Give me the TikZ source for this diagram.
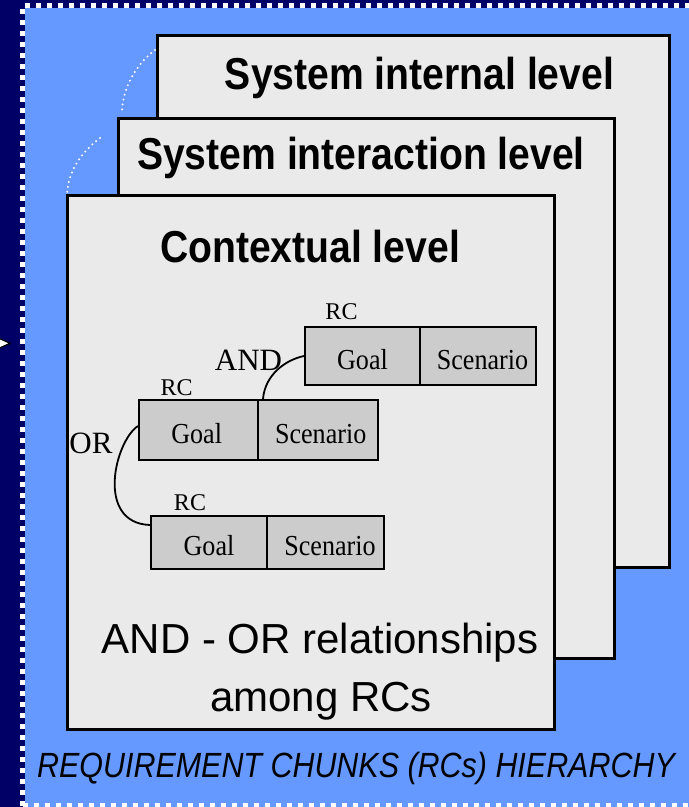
\documentclass[tikz,border=0pt]{standalone}
\usepackage{fontspec}
\setmainfont{Liberation Serif}
\setsansfont{Liberation Sans}
\usepackage{graphicx}
\definecolor{slidenavy}{HTML}{000066}
\definecolor{slideblue}{HTML}{6699FF}
\definecolor{panelgray}{HTML}{EAEAEA}
\definecolor{cellgray}{HTML}{CCCCCC}
% horizontally condensed text
\newcommand\squeeze[2]{\scalebox{#1}[1]{#2}}
% cell text: baseline set a fixed distance below the cell centre
\newcommand\celltext[1]{\raisebox{-13pt}[0pt][0pt]{\squeeze{0.9}{#1}}}

\begin{document}
\begin{tikzpicture}[x=1pt,y=-1pt,
  panel/.style={draw=black, line width=2.5pt, fill=panelgray, rectangle, inner sep=0pt, anchor=north west},
  title/.style={anchor=base, inner sep=0pt, font=\sffamily\bfseries\fontsize{44.7}{50}\selectfont},
  cell/.style={draw=black, line width=2pt, fill=cellgray, rectangle, inner sep=0pt, anchor=north west, font=\fontsize{29}{32}\selectfont},
  rclabel/.style={anchor=base, inner sep=0pt, font=\fontsize{24}{28}\selectfont},
  oplabel/.style={anchor=base, inner sep=0pt, font=\fontsize{31}{34}\selectfont},
  bodytext/.style={anchor=base, inner sep=0pt, font=\sffamily\fontsize{42}{48}\selectfont},
  relation/.style={draw=black, line width=1.8pt},
  trail/.style={draw=white, line width=2.2pt, dash pattern=on 0pt off 5pt, line cap=round},
  border/.style={draw=white, line width=5pt, dash pattern=on 5pt off 6pt}]

\useasboundingbox (0,0) rectangle (689,807);

% slide background and dotted frame
\fill[slidenavy] (0,0) rectangle (689,807);
\fill[slideblue] (25,7.5) rectangle (689,807);
\draw[border] (22.5,805.5) -- (22.5,5) -- (689,5);
\draw[border] (22.5,805.5) -- (689,805.5);

% small pointer on the left edge
\filldraw[fill=white, draw=black, line width=1.2pt] (-6,336) -- (10,343.3) -- (-6,350.5) -- cycle;

% stacked level panels
\node[panel, minimum width=512pt, minimum height=532pt] (internal) at (156,34) {};
\node[panel, minimum width=496pt, minimum height=540pt] (interaction) at (117,117) {};
\node[panel, minimum width=487pt, minimum height=534pt] (contextual) at (66,194) {};

% dotted trails between the panels
\path[trail] (155,50) .. controls (135,65) and (122,90) .. (122,113);
\path[trail] (100,138) .. controls (82,152) and (68,170) .. (67,195);

% panel titles
\node[title] (tinternal) at (419.5,89) {\squeeze{0.875}{System internal level}};
\node[title] (tinteraction) at (361,169.3) {\squeeze{0.875}{System interaction level}};
\node[title] (tcontextual) at (310,262.7) {\squeeze{0.875}{Contextual level}};

% requirement chunks
\node[cell, minimum width=115pt, minimum height=58pt] (rc1g) at (304,326) {\celltext{Goal}};
\node[cell, minimum width=116pt, minimum height=58pt] (rc1s) at (419,326) {\celltext{\hspace{10pt}Scenario}};
\node[cell, minimum width=119pt, minimum height=60pt] (rc2g) at (138,399) {\celltext{Goal\hspace{4pt}}};
\node[cell, minimum width=120pt, minimum height=60pt] (rc2s) at (257,399) {\celltext{\hspace{6pt}Scenario}};
\node[cell, minimum width=116pt, minimum height=53pt] (rc3g) at (150,515) {\celltext{Goal}};
\node[cell, minimum width=117pt, minimum height=53pt] (rc3s) at (266,515) {\celltext{\hspace{10pt}Scenario}};

\node[rclabel] (rc1) at (341.5,319) {RC};
\node[rclabel] (rc2) at (176.7,395) {RC};
\node[rclabel] (rc3) at (190,510) {RC};

% AND / OR relationships
\path[relation] (rc1g.west) .. controls +(-19,4) and +(2,-24) .. ([xshift=6pt]rc2s.north west);
\path[relation] ([yshift=4pt]rc2g.west) .. controls +(-23,15) and +(-55,-2) .. ([yshift=17.5pt]rc3g.west);
\node[oplabel] (andop) at (248.5,370) {AND};
\node[oplabel] (orop) at (91,453) {OR};

% panel caption
\node[bodytext] (rel1) at (320,653) {AND - OR relationships};
\node[bodytext] (rel2) at (321,711.7) {among RCs};

% slide caption
\node[anchor=base, inner sep=0pt, font=\sffamily\itshape\fontsize{35}{40}\selectfont] (caption) at (356,777) {\squeeze{0.87}{REQUIREMENT CHUNKS (RCs) HIERARCHY}};
\end{tikzpicture}
\end{document}
